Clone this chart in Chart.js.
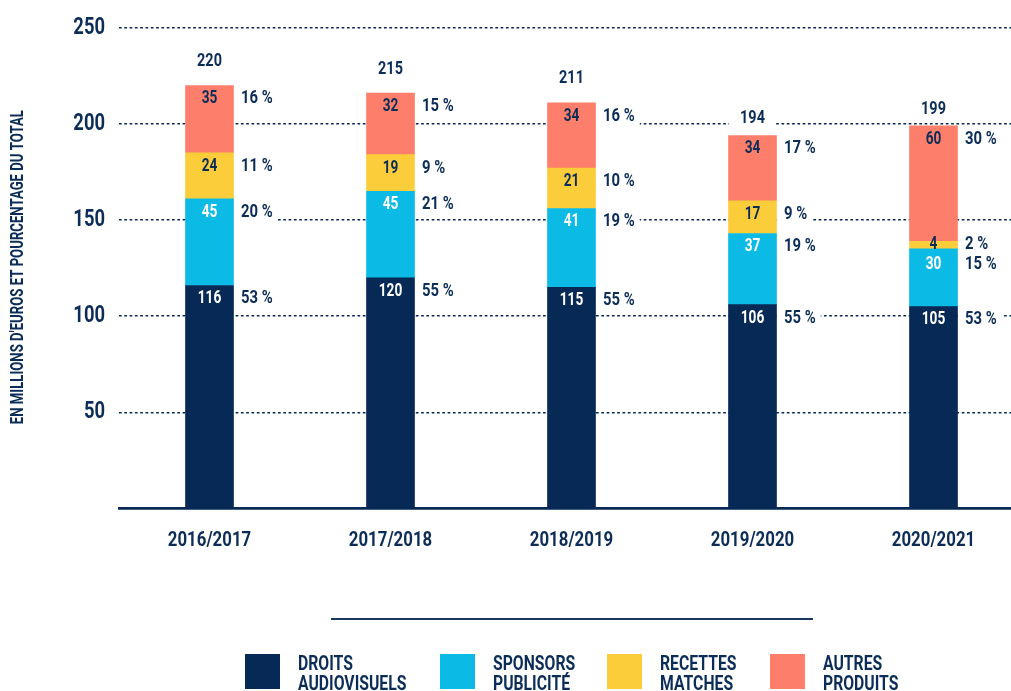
<!DOCTYPE html>
<html><head><meta charset="utf-8">
<script src="https://cdn.jsdelivr.net/npm/chart.js@4.4.0/dist/chart.umd.min.js"></script>
<style>
html,body{margin:0;padding:0;background:#fff;overflow:hidden;width:1011px;height:691px;}
#wrap{position:absolute;left:0;top:0;width:1024px;height:691px;}
#rule{position:absolute;left:331px;top:618px;width:482px;height:2px;background:#1b365d;}
.item{position:absolute;top:654px;height:35px;}
.box{position:absolute;left:0;top:0;width:35px;height:35px;}
.lbl{position:absolute;left:53px;top:-1px;font-weight:bold;font-size:21px;font-family:Roboto,sans-serif;line-height:20px;color:#0c2d57;white-space:nowrap;transform-origin:0 0;transform:scaleX(0.75);}
</style></head>
<body>
<div id="wrap"><canvas id="c" width="1024" height="691"></canvas></div>
<div id="rule"></div>
<div id="legend"></div>
<script>
// ---- data ----
const categories = ['2016/2017', '2017/2018', '2018/2019', '2019/2020', '2020/2021'];
const droitsAudiovisuels = [116, 120, 115, 106, 105];
const sponsorsPublicite = [45, 45, 41, 37, 30];
const recettesMatches = [24, 19, 21, 17, 4];
const autresProduits = [35, 32, 34, 34, 60];
const totals = [220, 215, 211, 194, 199];
const pctDroits = [53, 55, 55, 55, 53];
const pctSponsors = [20, 21, 19, 19, 15];
const pctRecettes = [11, 9, 10, 9, 2];
const pctAutres = [16, 15, 16, 17, 30];
const yTicks = [50, 100, 150, 200, 250];
const seriesNames = [['DROITS', 'AUDIOVISUELS'], ['SPONSORS', 'PUBLICITÉ'], ['RECETTES', 'MATCHES'], ['AUTRES', 'PRODUITS']];
const yTitle = "EN MILLIONS D'EUROS ET POURCENTAGE DU TOTAL";

// ---- styles ----
const NAVY = '#062a55', CYAN = '#0bbbe5', YEL = '#fbcd3b', SAL = '#fd7f6b', TXT = '#0c2d57';
const FONT = 'Roboto, sans-serif';
const SQ = 0.8; // horizontal condensing of canvas text
const colors = [NAVY, CYAN, YEL, SAL];
const valueColors = ['#ffffff', '#ffffff', TXT, TXT];
const totalGap = [24, 24, 24, 17, 16]; // px between bar top and total label centre
const pcts = [pctDroits, pctSponsors, pctRecettes, pctAutres];
const seriesData = [droitsAudiovisuels, sponsorsPublicite, recettesMatches, autresProduits];

// legend (HTML)
const legendLeft = [245, 440, 607, 770];
const lg = document.getElementById('legend');
seriesNames.forEach((nm, i) => {
  const it = document.createElement('div');
  it.className = 'item'; it.style.left = legendLeft[i] + 'px';
  const b = document.createElement('div'); b.className = 'box'; b.style.background = colors[i];
  const t = document.createElement('div'); t.className = 'lbl'; t.innerHTML = nm[0] + '<br>' + nm[1];
  it.appendChild(b); it.appendChild(t); lg.appendChild(it);
});

function condText(ctx, txt, x, y, f) {
  const w = ctx.measureText(txt).width * f;
  ctx.fillText(txt, x, y, w);
  return w;
}

const labelPlugin = {
  id: 'segLabels',
  beforeDraw(chart) {
    const ctx = chart.ctx;
    if (!ctx._condensed) {
      const orig = ctx.fillText;
      ctx.fillText = function (t, x, y, mw) {
        if (mw === undefined || mw === null || isNaN(mw)) mw = this.measureText(t).width * SQ;
        return orig.call(this, t, x, y, mw);
      };
      ctx._condensed = true;
    }
  },
  afterDatasetsDraw(chart) {
    const ctx = chart.ctx;
    ctx.save();
    const nds = chart.data.datasets.length;
    for (let i = 0; i < chart.data.labels.length; i++) {
      const ys = [];
      let above = null;
      for (let d = nds - 1; d >= 0; d--) {
        const el = chart.getDatasetMeta(d).data[i];
        let y = Math.min(el.y + 13.5, (el.y + el.base) / 2);
        if (above !== null && y < above + 20) y = above + 20;
        ys[d] = y; above = y;
      }
      for (let d = 0; d < nds; d++) {
        const el = chart.getDatasetMeta(d).data[i];
        const y = ys[d];
        ctx.font = 'bold 17.5px ' + FONT;
        ctx.textBaseline = 'middle';
        ctx.textAlign = 'center';
        ctx.fillStyle = valueColors[d];
        condText(ctx, String(seriesData[d][i]), el.x, y, 0.78);
        // percentage with white backdrop
        const right = Math.ceil(el.x + el.width / 2);
        const txt = pcts[d][i] + ' %';
        const px = right + 7;
        const w = ctx.measureText(txt).width * 0.85;
        ctx.fillStyle = '#ffffff';
        ctx.fillRect(right, y - 10, (px - right) + w + 5, 20);
        ctx.textAlign = 'left';
        ctx.fillStyle = TXT;
        ctx.fillText(txt, px, y, w);
      }
      // total
      const topEl = chart.getDatasetMeta(nds - 1).data[i];
      const ty = topEl.y - totalGap[i];
      ctx.font = 'bold 18.5px ' + FONT;
      ctx.textAlign = 'center';
      ctx.textBaseline = 'middle';
      const tw = ctx.measureText(String(totals[i])).width * 0.78;
      ctx.fillStyle = '#ffffff';
      ctx.fillRect(topEl.x - tw / 2 - 11, ty - 11, tw + 22, 22);
      ctx.fillStyle = TXT;
      ctx.fillText(String(totals[i]), topEl.x, ty, tw);
    }
    ctx.restore();
  },
  afterDraw(chart) {
    const ctx = chart.ctx;
    ctx.save();
    const cy = (chart.chartArea.top + chart.chartArea.bottom) / 2 - 1;
    ctx.translate(18.5, cy);
    ctx.rotate(-Math.PI / 2);
    ctx.font = 'bold 18px ' + FONT;
    ctx.textAlign = 'center';
    ctx.textBaseline = 'middle';
    ctx.fillStyle = TXT;
    ctx.fillText(yTitle, 0, 0, 314);
    ctx.restore();
  }
};

new Chart(document.getElementById('c'), {
  type: 'bar',
  data: {
    labels: categories,
    datasets: seriesNames.map((nm, i) => ({
      label: nm.join(' '),
      data: seriesData[i],
      backgroundColor: colors[i],
      borderWidth: 0,
      barThickness: 48
    }))
  },
  options: {
    responsive: false,
    animation: false,
    layout: { padding: { top: 25, right: 0, bottom: 0, left: 0 } },
    plugins: { legend: { display: false }, tooltip: { enabled: false } },
    scales: {
      x: {
        stacked: true,
        grid: { display: false },
        border: { display: true, color: NAVY, width: 2.7 },
        ticks: { color: TXT, font: { family: FONT, size: 21, weight: 'bold' }, padding: 12, maxRotation: 0 },
        afterFit(s) { s.height = 182.5; }
      },
      y: {
        stacked: true,
        min: 0, max: 250,
        afterBuildTicks(s) { s.ticks = yTicks.map(v => ({ value: v })); },
        grid: { color: NAVY, lineWidth: 1.6, drawTicks: false },
        border: { display: false, dash: [2.7, 2.6] },
        ticks: { color: TXT, font: { family: FONT, size: 23, weight: 'bold' }, padding: 14 },
        afterFit(s) { s.width = 119; }
      }
    }
  },
  plugins: [labelPlugin]
});
</script>
</body></html>
